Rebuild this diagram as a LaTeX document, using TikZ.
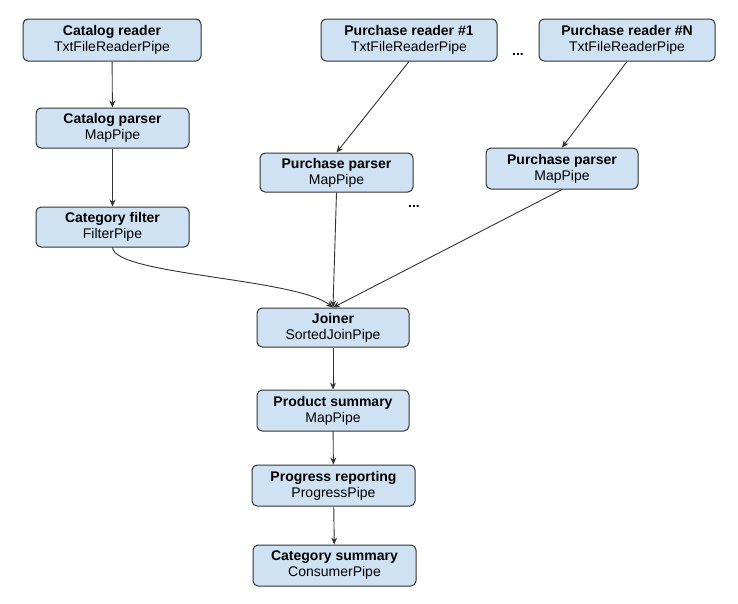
\documentclass[tikz,border=0pt]{standalone}
\usepackage{fontspec}
\setmainfont{Liberation Sans}
\usetikzlibrary{arrows.meta}
\definecolor{pipefill}{HTML}{CFE2F3}
\definecolor{pipeline}{HTML}{333333}
\tikzset{
  pipe/.style={draw=pipeline, fill=pipefill, line width=1pt, rounded corners=5pt,
    align=center, inner sep=0pt, font=\fontsize{14}{16}\selectfont},
  flow/.style={draw=pipeline, line width=0.9pt, -{Stealth[length=7pt,width=6pt]}},
  dots/.style={font=\fontsize{14}{14}\selectfont\bfseries}
}
\begin{document}
\begin{tikzpicture}[x=1pt,y=-1pt]
\useasboundingbox (0,0) rectangle (738,603);

% Catalog branch
\node[pipe, minimum width=178pt, minimum height=42pt] (catreader) at (112,40) {\textbf{Catalog reader}\\TxtFileReaderPipe};
\node[pipe, minimum width=153pt, minimum height=40pt] (catparser) at (112.5,128) {\textbf{Catalog parser}\\MapPipe};
\node[pipe, minimum width=153pt, minimum height=40pt] (catfilter) at (112.5,227) {\textbf{Category filter}\\FilterPipe};

% Purchase branches
\node[pipe, minimum width=176pt, minimum height=42pt] (preadone) at (409,40) {\textbf{Purchase reader \#1}\\TxtFileReaderPipe};
\node[pipe, minimum width=176pt, minimum height=42pt] (preadn) at (627,40) {\textbf{Purchase reader \#N}\\TxtFileReaderPipe};
\node[pipe, minimum width=153pt, minimum height=39pt] (pparseone) at (336.5,172.5) {\textbf{Purchase parser}\\MapPipe};
\node[pipe, minimum width=152pt, minimum height=41pt] (pparsen) at (562,168.5) {\textbf{Purchase parser}\\MapPipe};
\node[dots] (dotsread) at (518,54) {...};
\node[dots] (dotsparse) at (414,206) {...};

% Main chain
\node[pipe, minimum width=152pt, minimum height=39pt] (joiner) at (333,327.5) {\textbf{Joiner}\\SortedJoinPipe};
\node[pipe, minimum width=152pt, minimum height=41pt] (prodsum) at (333,410.5) {\textbf{Product summary}\\MapPipe};
\node[pipe, minimum width=163pt, minimum height=41pt] (progress) at (333.5,485.5) {\textbf{Progress reporting}\\ProgressPipe};
\node[pipe, minimum width=163pt, minimum height=41pt] (catsum) at (334.5,565.5) {\textbf{Category summary}\\ConsumerPipe};

% Connectors
\draw[flow] (catreader) -- (catparser);
\draw[flow] (catparser) -- (catfilter);
\draw[flow] (preadone.south) -- (pparseone.north);
\draw[flow] (preadn.south) -- (pparsen.north);
\draw[flow] (catfilter.south) .. controls (115,275) and (295,278) .. (joiner.north);
\draw[flow] (pparseone.south) -- (joiner.north);
\draw[flow] (pparsen.south) -- (joiner.north);
\draw[flow] (joiner) -- (prodsum);
\draw[flow] (prodsum) -- (progress);
\draw[flow] (progress) -- (catsum);

\end{tikzpicture}
\end{document}
